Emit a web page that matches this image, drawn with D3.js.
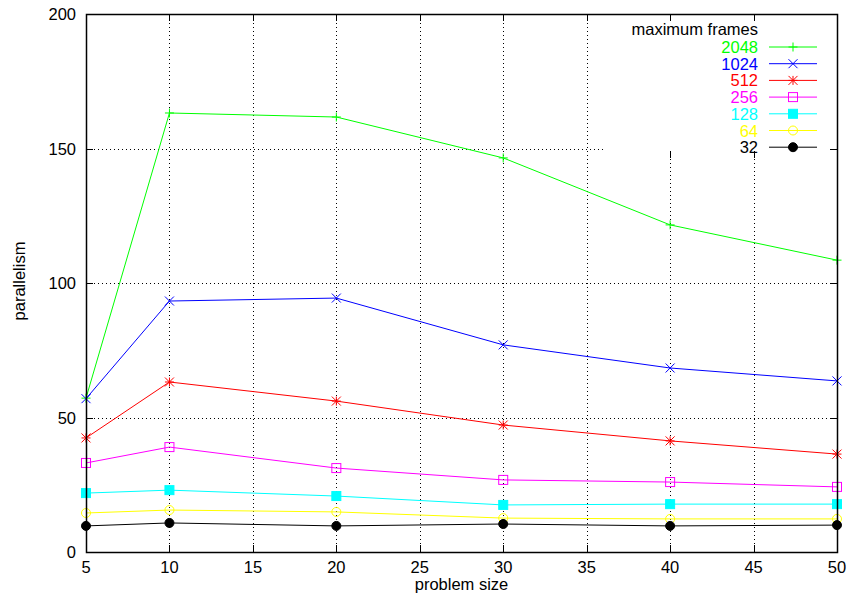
<!DOCTYPE html>
<html>
<head>
<meta charset="utf-8">
<script src="https://cdn.jsdelivr.net/npm/d3@7"></script>
<style>
  body { margin: 0; background: #fff; }
  text { font-family: "Liberation Sans", Arial, sans-serif; }
</style>
</head>
<body>
<svg id="chart" width="847" height="597"></svg>
<script>
// problem sizes on the x axis
const sizes = [5, 10, 20, 30, 40, 50];

// one array per "maximum frames" setting
const frames2048 = [57.2, 163.2, 161.7, 146.5, 121.6, 108.5];
const frames1024 = [57.0, 93.3, 94.4, 77.0, 68.4, 63.6];
const frames512 = [42.4, 63.2, 56.1, 47.2, 41.3, 36.4];
const frames256 = [33.1, 39.0, 31.2, 26.8, 26.0, 24.2];
const frames128 = [21.9, 23.0, 20.8, 17.5, 17.8, 17.8];
const frames64 = [14.5, 15.6, 14.9, 12.6, 12.3, 12.3];
const frames32 = [9.7, 10.8, 9.7, 10.4, 9.7, 10.0];

const seriesNames = ["2048", "1024", "512", "256", "128", "64", "32"];
const seriesValues = [frames2048, frames1024, frames512, frames256, frames128, frames64, frames32];
const seriesColors = ["#00ff00", "#0000ff", "#ff0000", "#ff00ff", "#00ffff", "#ffff00", "#000000"];
const seriesMarks = ["plus", "cross", "star", "box", "boxfill", "circle", "circlefill"];

const xTicks = [5, 10, 15, 20, 25, 30, 35, 40, 45, 50];
const yTicks = [0, 50, 100, 150, 200];

const margin = {left: 86, right: 10, top: 14, bottom: 45};
const width = 847, height = 597;
const fontSize = 16.5;

const svg = d3.select("#chart");

const x = d3.scaleLinear().domain([5, 50]).range([margin.left, width - margin.right]);
const y = d3.scaleLinear().domain([0, 200]).range([height - margin.bottom, margin.top]);

const x0 = x.range()[0], x1 = x.range()[1];
const y0 = y.range()[0], y1 = y.range()[1];

// legend area hides grid lines behind it
const legendBox = {left: 605, bottom: 158};

// grid
const grid = svg.append("g")
  .attr("stroke", "#000")
  .attr("stroke-width", 1)
  .attr("stroke-dasharray", "1,3");

xTicks.slice(1, -1).forEach(t => {
  const top = x(t) > legendBox.left ? legendBox.bottom : y1;
  grid.append("line")
    .attr("x1", Math.round(x(t)) + 0.5).attr("x2", Math.round(x(t)) + 0.5)
    .attr("y1", y0).attr("y2", top);
});
yTicks.slice(1, -1).forEach(t => {
  const right = y(t) < legendBox.bottom ? legendBox.left : x1;
  grid.append("line")
    .attr("x1", x0).attr("x2", right)
    .attr("y1", Math.round(y(t)) + 0.5).attr("y2", Math.round(y(t)) + 0.5);
});

// ticks on all four sides, pointing inward
const tickLen = 7;
const ticks = svg.append("g").attr("stroke", "#000").attr("stroke-width", 1);
xTicks.forEach(t => {
  const px = Math.round(x(t)) + 0.5;
  ticks.append("line").attr("x1", px).attr("x2", px).attr("y1", y0).attr("y2", y0 - tickLen);
  ticks.append("line").attr("x1", px).attr("x2", px).attr("y1", y1).attr("y2", y1 + tickLen);
  if (x(t) > legendBox.left && t !== 50) {
    ticks.append("line").attr("x1", px).attr("x2", px).attr("y1", legendBox.bottom).attr("y2", legendBox.bottom - tickLen);
  }
});
yTicks.forEach(t => {
  const py = Math.round(y(t)) + 0.5;
  ticks.append("line").attr("x1", x0).attr("x2", x0 + tickLen).attr("y1", py).attr("y2", py);
  ticks.append("line").attr("x1", x1).attr("x2", x1 - tickLen).attr("y1", py).attr("y2", py);
});

// tick labels
svg.append("g").selectAll("text").data(xTicks).join("text")
  .attr("x", d => x(d)).attr("y", y0 + 21)
  .attr("text-anchor", "middle").attr("font-size", fontSize)
  .text(d => d);
svg.append("g").selectAll("text").data(yTicks).join("text")
  .attr("x", x0 - 10).attr("y", d => y(d) + 6)
  .attr("text-anchor", "end").attr("font-size", fontSize)
  .text(d => d);

// axis titles
svg.append("text")
  .attr("x", (x0 + x1) / 2).attr("y", 590)
  .attr("text-anchor", "middle").attr("font-size", fontSize)
  .text("problem size");
svg.append("text")
  .attr("transform", "translate(25,281) rotate(-90)")
  .attr("text-anchor", "middle").attr("font-size", fontSize)
  .text("parallelism");

// marker drawing
function drawMark(g, kind, cx, cy, color) {
  const s = 4.5;
  if (kind === "plus") {
    g.append("path").attr("d", `M${cx - s},${cy}H${cx + s}M${cx},${cy - s}V${cy + s}`)
      .attr("stroke", color).attr("fill", "none");
  } else if (kind === "cross") {
    g.append("path").attr("d", `M${cx - s},${cy - s}L${cx + s},${cy + s}M${cx - s},${cy + s}L${cx + s},${cy - s}`)
      .attr("stroke", color).attr("fill", "none");
  } else if (kind === "star") {
    g.append("path").attr("d", `M${cx - s},${cy - s}L${cx + s},${cy + s}M${cx - s},${cy + s}L${cx + s},${cy - s}M${cx - s},${cy}H${cx + s}M${cx},${cy - s}V${cy + s}`)
      .attr("stroke", color).attr("fill", "none");
  } else if (kind === "box" || kind === "boxfill") {
    g.append("rect").attr("x", cx - s).attr("y", cy - s).attr("width", 2 * s).attr("height", 2 * s)
      .attr("stroke", color).attr("fill", kind === "boxfill" ? color : "none");
  } else {
    g.append("circle").attr("cx", cx).attr("cy", cy).attr("r", s)
      .attr("stroke", color).attr("fill", kind === "circlefill" ? color : "none");
  }
}

// series lines and points
const line = d3.line().x((d, i) => x(sizes[i])).y(d => y(d));
seriesValues.forEach((vals, k) => {
  const g = svg.append("g");
  g.append("path").attr("d", line(vals))
    .attr("fill", "none").attr("stroke", seriesColors[k]).attr("stroke-width", 1);
  vals.forEach((v, i) => drawMark(g, seriesMarks[k], x(sizes[i]), y(v), seriesColors[k]));
});

// border
svg.append("rect")
  .attr("x", x0 + 0.5).attr("y", y1 + 0.5)
  .attr("width", x1 - x0).attr("height", y0 - y1)
  .attr("fill", "none").attr("stroke", "#000").attr("stroke-width", 1.5);

// legend
const legend = svg.append("g");
legend.append("text")
  .attr("x", 758).attr("y", 35)
  .attr("text-anchor", "end").attr("font-size", fontSize)
  .text("maximum frames");
seriesNames.forEach((name, k) => {
  const ly = 47 + k * 16.7;
  legend.append("text")
    .attr("x", 758).attr("y", ly + 6)
    .attr("text-anchor", "end").attr("font-size", fontSize)
    .attr("fill", seriesColors[k])
    .text(name);
  legend.append("line")
    .attr("x1", 769).attr("x2", 817).attr("y1", ly).attr("y2", ly)
    .attr("stroke", seriesColors[k]);
  drawMark(legend, seriesMarks[k], 793, ly, seriesColors[k]);
});
</script>
</body>
</html>
